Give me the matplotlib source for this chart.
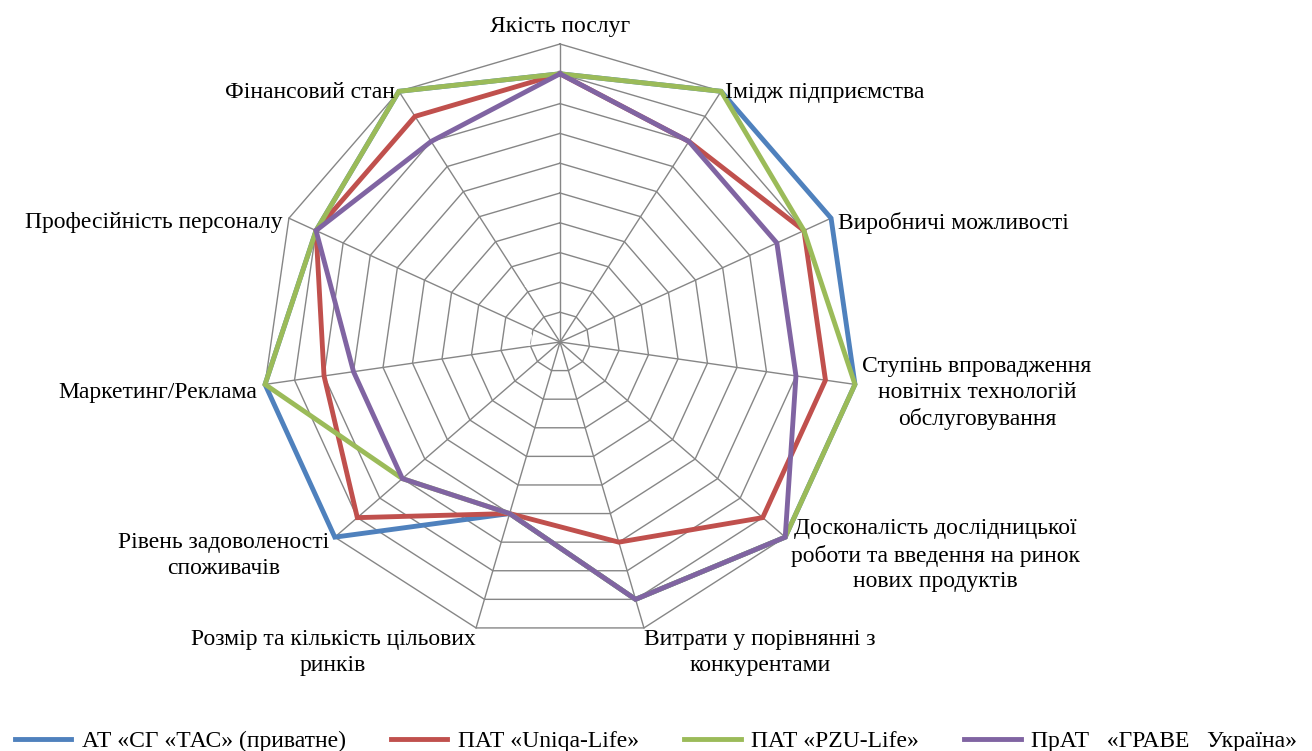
import numpy as np
import matplotlib.pyplot as plt

# Категорії (за годинниковою стрілкою від верху)
categories = [
    'Якість послуг',
    'Імідж підприємства',
    'Виробничі можливості',
    'Ступінь впровадження\nновітніх технологій\nобслуговування',
    'Досконалість дослідницької\nроботи та введення на ринок\nнових продуктів',
    'Витрати у порівнянні з\nконкурентами',
    'Розмір та кількість цільових\nринків',
    'Рівень задоволеності\nспоживачів',
    'Маркетинг/Реклама',
    'Професійність персоналу',
    'Фінансовий стан',
]

# Оцінки компаній
tas = [9, 10, 10, 10, 10, 9, 6, 10, 10, 9, 10]
uniqa = [9, 8, 9, 9, 9, 7, 6, 9, 8, 9, 9]
pzu = [9, 10, 9, 10, 10, 9, 6, 7, 10, 9, 10]
grawe = [9, 8, 8, 8, 10, 9, 6, 7, 7, 9, 8]

series_names = ['АТ «СГ «ТАС» (приватне)', 'ПАТ «Uniqa-Life»', 'ПАТ «PZU-Life»',
                'ПрАТ   «ГРАВЕ   Україна»']
series_data = [tas, uniqa, pzu, grawe]
colors = ['#4F81BD', '#C0504D', '#9BBB59', '#8064A2']

ticks = list(range(0, 11))
r_max = 10

plt.rcParams['font.family'] = ['Liberation Serif', 'DejaVu Serif']

fig = plt.figure(figsize=(13.12, 7.51), dpi=100)
ax = fig.add_axes([0, 0, 1, 1])
px = 29.8  # пікселів на одиницю
ax.set_xlim(-560 / px, (1312 - 560) / px)
ax.set_ylim(-(751 - 342) / px, 342 / px)
ax.axis('off')

n = len(categories)
angles = np.arange(n) * 2 * np.pi / n
sx = np.sin(angles)
cy = np.cos(angles)

# Сітка: багатокутники та промені
for t in ticks[1:]:
    ax.plot(np.append(sx, sx[0]) * t, np.append(cy, cy[0]) * t,
            color='#868686', lw=1.0, zorder=1)
for i in range(n):
    ax.plot([0, sx[i] * r_max], [0, cy[i] * r_max], color='#868686', lw=1.0, zorder=1)

# Підписи шкали (білі, як в оригіналі)
for t in ticks:
    ax.text(-0.9, t, str(t), color='white', fontsize=14, ha='right', va='center', zorder=2)

# Ряди даних
for name, vals, col in zip(series_names, series_data, colors):
    v = np.array(vals + vals[:1], dtype=float)
    ax.plot(np.append(sx, sx[0]) * v, np.append(cy, cy[0]) * v,
            color=col, lw=3.5, label=name, zorder=3, solid_joinstyle='miter')

# Підписи категорій
for i, lab in enumerate(categories):
    s, c = sx[i], cy[i]
    r = 10.25
    dy = 0
    if abs(s) < 0.1:
        ha = 'center'
    elif s > 0:
        ha = 'left'
    else:
        ha = 'right'
    if c > 0.9:
        va = 'bottom'
    elif c < -0.9:
        va = 'top'
        r = 10.05
    else:
        va = 'center'
        dy = -0.45 if c < -0.5 else -0.25
    ax.text(s * r, c * r + dy, lab, ha=ha, va=va, fontsize=17, multialignment='center',
            linespacing=1.3, color='black', zorder=4)

fig.legend(loc='lower center', bbox_to_anchor=(0.5, -0.03), ncol=4, frameon=False,
           fontsize=17, handlelength=2.4, columnspacing=1.9, handletextpad=0.45)

fig.savefig('out.png', dpi=100)
